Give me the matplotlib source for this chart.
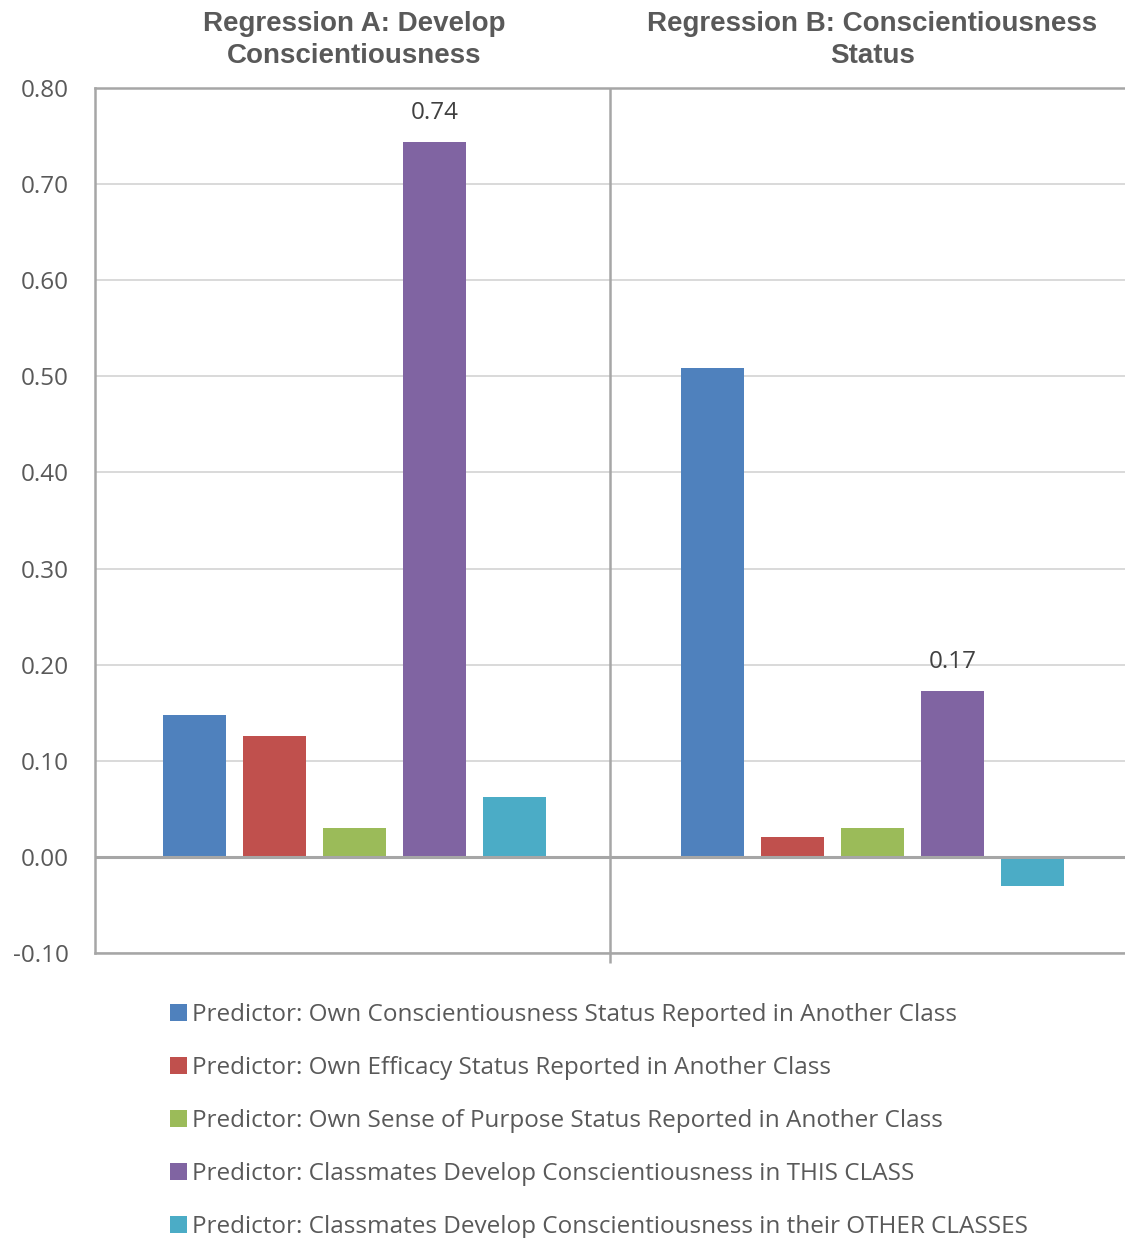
import matplotlib
matplotlib.use("Agg")
import matplotlib.pyplot as plt
import matplotlib.transforms as mtransforms
import numpy as np

# Regression groups and predictor coefficients
groups = ["Regression A: Develop\nConscientiousness",
          "Regression B: Conscientiousness\nStatus"]
predictors = [
    "Predictor: Own Conscientiousness Status Reported in Another Class",
    "Predictor: Own Efficacy Status Reported in Another Class",
    "Predictor: Own Sense of Purpose Status Reported in Another Class",
    "Predictor: Classmates Develop Conscientiousness in THIS CLASS",
    "Predictor: Classmates Develop Conscientiousness in their OTHER CLASSES",
]
coef_a = [0.148, 0.126, 0.030, 0.744, 0.062]
coef_b = [0.509, 0.021, 0.030, 0.173, -0.030]
labeled_bars = {(0, 3): 0.74, (1, 3): 0.17}
y_ticks = [-0.10, 0.00, 0.10, 0.20, 0.30, 0.40, 0.50, 0.60, 0.70, 0.80]

colors = ["#4F81BD", "#C0504D", "#9BBB59", "#8064A2", "#4BACC6"]
text_grey = "#595959"
label_font = "Open Sans"
title_font = "Liberation Sans"

fig = plt.figure(figsize=(11.25, 12.38), dpi=100)
ax = fig.add_axes([95 / 1125, (1238 - 953) / 1238, 1030 / 1125, 865 / 1238])

values = np.array([coef_a, coef_b])
x = np.arange(len(groups))
bar_w = 0.1216
step = 0.1544
handles = []
for i, (name, col) in enumerate(zip(predictors, colors)):
    pos = x + (i - 2) * step
    bars = ax.bar(pos, values[:, i], width=bar_w, color=col, label=name,
                  zorder=3, linewidth=0)
    handles.append(bars)
    for g in range(len(groups)):
        if (g, i) in labeled_bars:
            ax.annotate(f"{labeled_bars[(g, i)]:.2f}",
                        xy=(pos[g], values[g, i]), xytext=(0, 20.5),
                        textcoords="offset points", ha="center", va="center",
                        fontsize=17.5, color="#404040", family=label_font)

ax.set_xlim(-0.501, 1.4875)
ax.set_ylim(-0.10, 0.80)
ax.set_yticks(y_ticks)
ax.set_yticklabels([f"{v:.2f}" for v in y_ticks], fontsize=17.5,
                   color=text_grey, family=label_font)
ax.tick_params(axis="y", length=0, pad=19)
ax.yaxis.grid(True, color="#D9D9D9", linewidth=1.4, zorder=0)
ax.set_axisbelow(True)

# Category separator with its outward tick
sep = 0.493
ax.set_xticks([sep])
ax.set_xticklabels([""])
ax.tick_params(axis="x", length=7, width=1.8, color="#A6A6A6", direction="out")
ax.axvline(sep, color="#A6A6A6", linewidth=1.8, zorder=2)
ax.axhline(0.0, color="#A6A6A6", linewidth=2.2, zorder=4)

for side in ["left", "bottom", "top"]:
    ax.spines[side].set_color("#A6A6A6")
    ax.spines[side].set_linewidth(1.8)
ax.spines["right"].set_visible(False)

# Group titles above each category
trans = mtransforms.blended_transform_factory(ax.transData, ax.transAxes)
for g, title in enumerate(groups):
    ax.text(x[g], 1.0 + 48 / 865, title, transform=trans, ha="center",
            va="center", fontsize=20, fontweight="bold", color=text_grey,
            family=title_font, linespacing=1.32)

fig.legend(handles=handles, labels=predictors, loc="upper left",
           bbox_to_anchor=(160 / 1125, 1 - 993 / 1238), frameon=False,
           prop={"family": label_font, "size": 17.5}, labelcolor=text_grey,
           handlelength=0.7, handleheight=0.7, handletextpad=0.2,
           labelspacing=1.2, borderaxespad=0)

fig.savefig("out.png", dpi=100)
